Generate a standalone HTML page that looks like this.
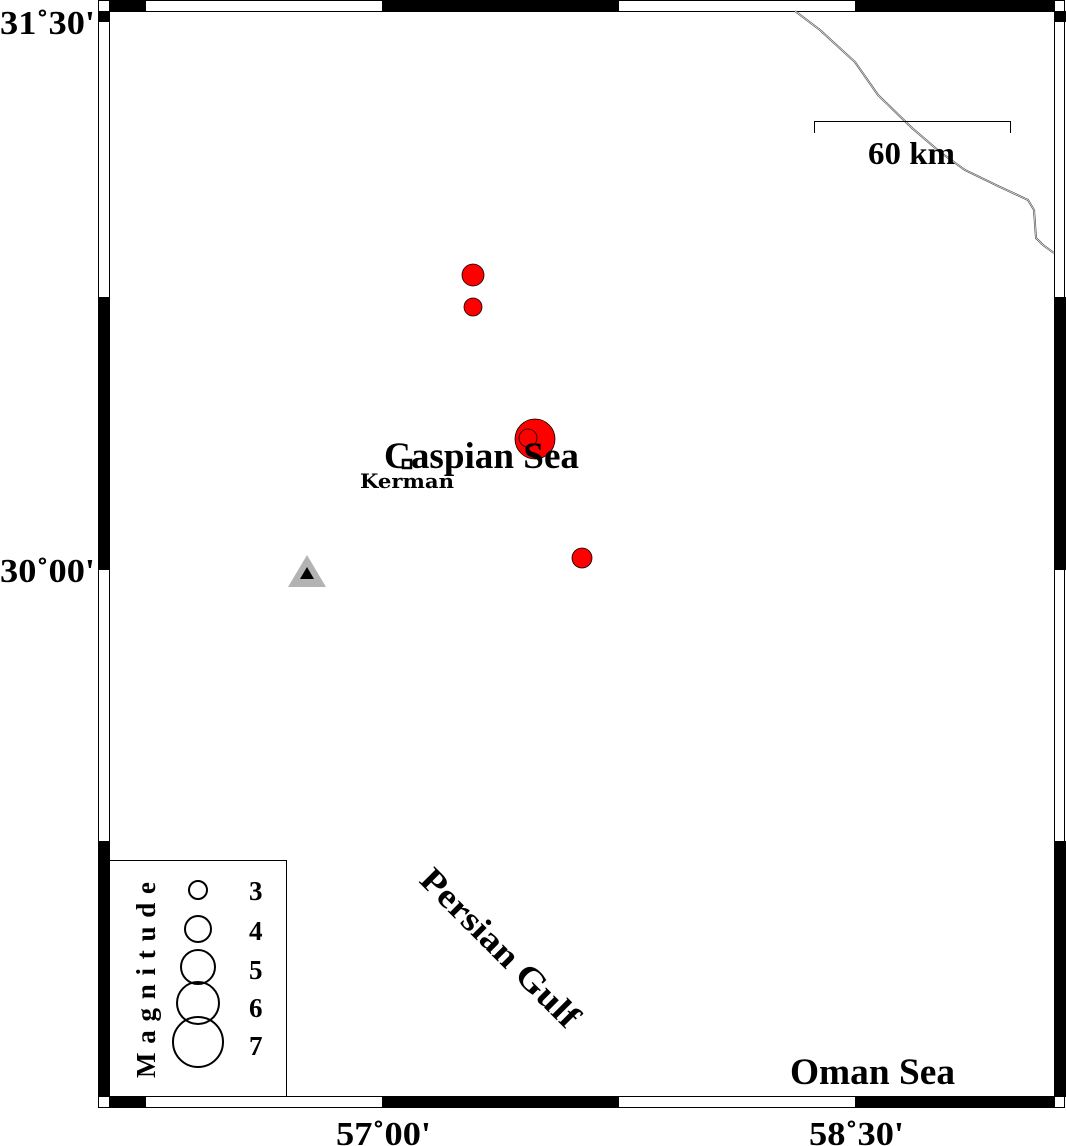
<!DOCTYPE html>
<html><head><meta charset="utf-8"><style>
html,body{margin:0;padding:0;background:#fff;}
svg{display:block;}
text{font-family:"Liberation Serif",serif;font-weight:bold;fill:#000;}
</style></head><body>
<svg width="1066" height="1146" viewBox="0 0 1066 1146" xmlns="http://www.w3.org/2000/svg">
<rect x="98.5" y="0.5" width="966" height="1107" fill="#fff" stroke="#000" stroke-width="1"/>
<rect x="109" y="0" width="37" height="11" fill="#000"/>
<rect x="382" y="0" width="237" height="11" fill="#000"/>
<rect x="855" y="0" width="200" height="11" fill="#000"/>
<rect x="109" y="1097" width="37" height="11" fill="#000"/>
<rect x="382" y="1097" width="237" height="11" fill="#000"/>
<rect x="855" y="1097" width="200" height="11" fill="#000"/>
<rect x="98" y="11" width="11" height="11" fill="#000"/>
<rect x="98" y="297" width="11" height="273" fill="#000"/>
<rect x="98" y="841" width="11" height="256" fill="#000"/>
<rect x="1055" y="11" width="11" height="11" fill="#000"/>
<rect x="1055" y="297" width="11" height="273" fill="#000"/>
<rect x="1055" y="841" width="11" height="256" fill="#000"/>
<rect x="109.5" y="11.5" width="945" height="1085" fill="none" stroke="#000" stroke-width="1"/>
<polyline points="795,11 820,30 855,62 878,95 912,128 940,152 965,170 998,186 1028,200 1034,210 1036,238 1043,245 1054,253" fill="none" stroke="#555" stroke-width="2"/>
<polyline points="795,11 820,30 855,62 878,95 912,128 940,152 965,170 998,186 1028,200 1034,210 1036,238 1043,245 1054,253" fill="none" stroke="#fff" stroke-width="0.6"/>
<path d="M814.5,133 V121.5 H1010.5 V133" fill="none" stroke="#000" stroke-width="1"/>
<text x="868" y="164" font-size="32" textLength="87" lengthAdjust="spacingAndGlyphs">60 km</text>
<circle cx="473" cy="275" r="11" fill="#f00" stroke="#000" stroke-width="0.8"/>
<circle cx="473" cy="307" r="9" fill="#f00" stroke="#000" stroke-width="0.8"/>
<circle cx="535" cy="439" r="20" fill="#f00" stroke="#000" stroke-width="0.8"/>
<circle cx="528" cy="438" r="9" fill="none" stroke="#000" stroke-width="0.8"/>
<circle cx="582" cy="558" r="10" fill="#f00" stroke="#000" stroke-width="0.8"/>
<polygon points="307,555 326,587 288,587" fill="#b3b3b3"/>
<polygon points="307,567 314,579 300,579" fill="#000"/>
<text x="384" y="468" font-size="37" textLength="195" lengthAdjust="spacingAndGlyphs">Caspian Sea</text>
<rect x="403" y="460" width="8" height="8" fill="#fff" stroke="#000" stroke-width="2.5"/>
<text x="360" y="488" font-size="20" textLength="94" lengthAdjust="spacingAndGlyphs" style="font-family:'DejaVu Serif',serif">Kerman</text>
<text x="0" y="0" font-size="34" transform="translate(500,948) rotate(45)" text-anchor="middle" dy="11" textLength="210" lengthAdjust="spacingAndGlyphs">Persian Gulf</text>
<text x="790" y="1084" font-size="37" textLength="165" lengthAdjust="spacingAndGlyphs">Oman Sea</text>
<text x="0" y="34" font-size="34" textLength="95" lengthAdjust="spacingAndGlyphs">31˚30'</text>
<text x="0" y="582" font-size="34" textLength="95" lengthAdjust="spacingAndGlyphs">30˚00'</text>
<text x="336" y="1145" font-size="34" textLength="95" lengthAdjust="spacingAndGlyphs">57˚00'</text>
<text x="809" y="1145" font-size="34" textLength="95" lengthAdjust="spacingAndGlyphs">58˚30'</text>
<rect x="109.5" y="860.5" width="177" height="236" fill="#fff" stroke="#000" stroke-width="1"/>
<g fill="none" stroke="#000" stroke-width="2">
<circle cx="198" cy="890" r="9"/>
<circle cx="198" cy="929" r="13"/>
<circle cx="198" cy="967" r="17"/>
<circle cx="198" cy="1003" r="21"/>
<circle cx="198" cy="1042" r="25"/>
</g>
<text x="249" y="900" font-size="27">3</text>
<text x="249" y="940" font-size="27">4</text>
<text x="249" y="979" font-size="27">5</text>
<text x="249" y="1017" font-size="27">6</text>
<text x="249" y="1055" font-size="27">7</text>
<text x="0" y="0" font-size="27" transform="translate(155,1078) rotate(-90)" textLength="196" lengthAdjust="spacing">Magnitude</text>
</svg>
</body></html>
